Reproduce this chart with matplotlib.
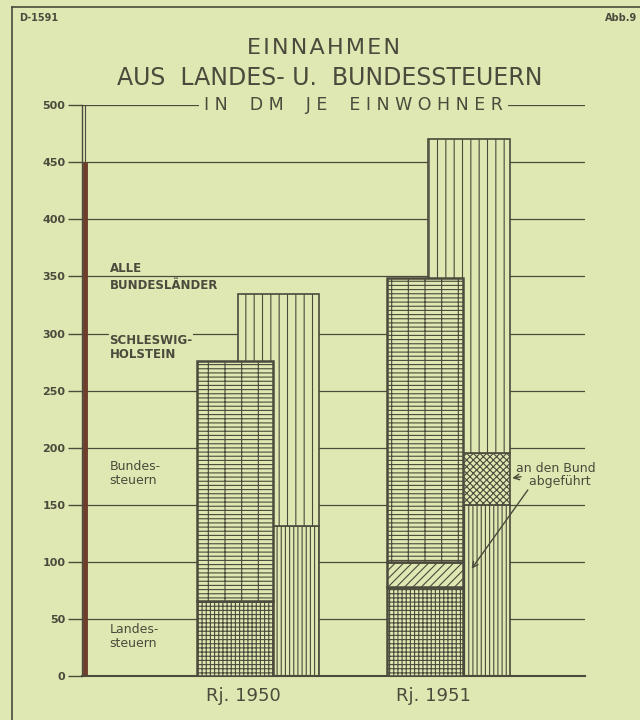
import matplotlib.pyplot as plt
from matplotlib.lines import Line2D

years = ["Rj. 1950", "Rj. 1951"]
# Schleswig-Holstein (DM je Einwohner)
sh_landes = [66, 78]
sh_abgefuehrt = [0, 22]
sh_total = [276, 349]
# Alle Bundesländer
alle_landes = [131, 150]
alle_abgefuehrt = [0, 45]
alle_total = [335, 470]
yticks = list(range(0, 501, 50))

bg = "#dfe8b2"
ink = "#4b4a3c"
brown = "#6e3d2c"
plt.rcParams["hatch.linewidth"] = 0.8
plt.rcParams["font.family"] = ["DejaVu Sans"]

fig = plt.figure(figsize=(6.4, 7.2), dpi=100, facecolor=bg)
ax = fig.add_axes([0.128, 0.061, 0.786, 0.793], facecolor=bg)

x = range(len(years))
w_sh, w_alle, off = 0.40, 0.43, 0.23

for yv in yticks[1:]:
    ax.axhline(yv, color=ink, lw=0.9, zorder=0)

for i in x:
    xa = i + off
    # Alle Bundesländer bar (behind)
    ax.bar(xa, alle_landes[i], w_alle, color=bg, edgecolor=ink, hatch="||||", lw=1.2, zorder=2)
    if alle_abgefuehrt[i]:
        ax.bar(xa, alle_abgefuehrt[i], w_alle, bottom=alle_landes[i], color=bg, edgecolor=ink,
               hatch="xxxxx", lw=1.2, zorder=2)
    top_start = alle_landes[i] + alle_abgefuehrt[i]
    ax.bar(xa, alle_total[i] - top_start, w_alle, bottom=top_start, color=bg, edgecolor=ink,
           hatch="||", lw=1.2, zorder=2)
    # Schleswig-Holstein bar (front)
    ax.bar(i, sh_landes[i], w_sh, color=bg, edgecolor=ink, hatch="++++", lw=1.8, zorder=3)
    if sh_abgefuehrt[i]:
        ax.bar(i, sh_abgefuehrt[i], w_sh, bottom=sh_landes[i], color=bg, edgecolor=ink,
               hatch="////", lw=1.8, zorder=3)
    s = sh_landes[i] + sh_abgefuehrt[i]
    ax.bar(i, sh_total[i] - s, w_sh, bottom=s, color=bg, edgecolor=ink, hatch="-|---", lw=1.8, zorder=3)

ax.set_xlim(-0.805, 1.842)
ax.set_ylim(0, 500)
ax.set_yticks(yticks)
ax.set_yticklabels([str(v) for v in yticks], fontsize=8, fontweight="bold", color=ink)
ax.tick_params(axis="y", length=10, width=1, color=ink, pad=2)
ax.set_xticks([i + 0.045 for i in x])
ax.set_xticklabels(years, fontsize=13, color=ink)
ax.tick_params(axis="x", length=0, pad=8)
for side in ["top", "right"]:
    ax.spines[side].set_visible(False)
ax.spines["left"].set_color(ink)
ax.spines["left"].set_linewidth(1)
ax.spines["bottom"].set_color(ink)
ax.spines["bottom"].set_linewidth(1.5)
ax.axvline(-0.79, color=ink, lw=0.8, zorder=1)
ax.vlines(-0.79, 0, 450, color=brown, lw=3.5, zorder=1)

lab = dict(fontsize=8.5, color=ink, ha="left", fontweight="bold", zorder=4)
ax.text(-0.66, 351, "ALLE", va="bottom", **lab)
ax.text(-0.66, 348, "BUNDESLÄNDER", va="top", **lab)
ax.text(-0.66, 299.5, "SCHLESWIG-\nHOLSTEIN", va="top", linespacing=1.05,
        bbox=dict(boxstyle="square,pad=0.05", fc=bg, ec="none"), **lab)
ax.text(-0.66, 177, "Bundes-\nsteuern", va="center", linespacing=1.1, **dict(lab, fontweight="normal", fontsize=9))
ax.text(-0.66, 35, "Landes-\nsteuern", va="center", linespacing=1.1, **dict(lab, fontweight="normal", fontsize=9))

ax.text(1.69, 176, "an den Bund\n  abgeführt", fontsize=9, color=ink, ha="center", va="center",
        linespacing=1.0, zorder=5)
ax.annotate("", xy=(1.0 + off + w_alle / 2, 173), xytext=(1.52, 175),
            arrowprops=dict(arrowstyle="->", color=ink, lw=1))
ax.annotate("", xy=(1.237, 92), xytext=(1.55, 165),
            arrowprops=dict(arrowstyle="->", color=ink, lw=1))

ax.text(0.54, 500, "I N    D M    J E    E I N W O H N E R", transform=ax.get_yaxis_transform(),
        fontsize=12.5, color=ink, ha="center", va="center",
        bbox=dict(boxstyle="square,pad=0.3", fc=bg, ec="none"), zorder=4)

fig.text(0.505, 0.933, "\u200a".join("EINNAHMEN"), fontsize=16, color=ink, ha="center", va="center")
fig.text(0.515, 0.891, "AUS  LANDES- U.  BUNDESSTEUERN", fontsize=17, color=ink, ha="center", va="center")
fig.text(0.03, 0.975, "D-1591", fontsize=7, color=ink, va="center", fontweight="bold")
fig.text(0.995, 0.975, "Abb.9", fontsize=7, color=ink, va="center", ha="right", fontweight="bold")
fig.add_artist(Line2D([0.019, 0.019], [0.0, 0.99], color=ink, lw=1.2))
fig.add_artist(Line2D([0.019, 1.0], [0.99, 0.99], color=ink, lw=1.2))

fig.savefig("out.png", dpi=100, facecolor=bg)
